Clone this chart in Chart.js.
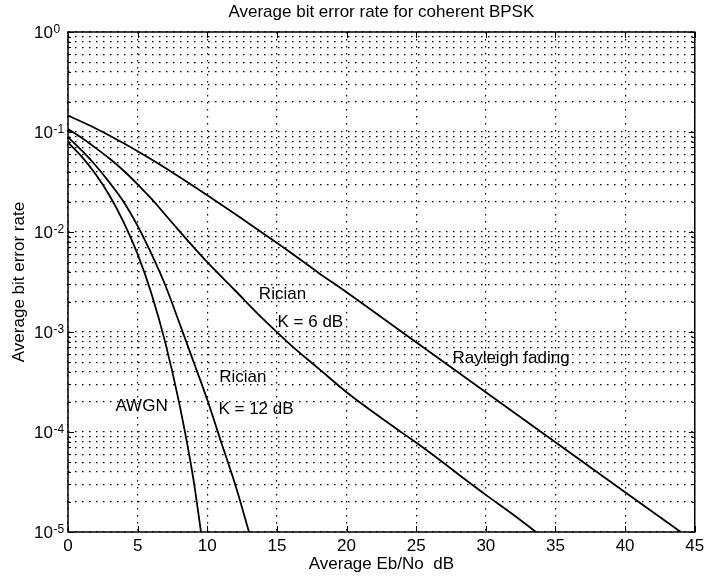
<!DOCTYPE html>
<html>
<head>
<meta charset="utf-8">
<title>Average bit error rate for coherent BPSK</title>
<script src="https://cdn.jsdelivr.net/npm/chart.js@4.4.1/dist/chart.umd.min.js"></script>
<style>
  html, body { margin: 0; padding: 0; background: #fff; }
  #wrap { width: 708px; height: 582px; }
</style>
</head>
<body>
<div id="wrap"><canvas id="ber-chart" width="708" height="582"></canvas></div>
<script>
// values: Eb/No in dB and average bit error rate
const awgnEbNo = [0, 1, 2, 3, 4, 5, 6, 7, 8, 9, 9.55];
const awgnBer = [0.0786, 0.0563, 0.0375, 0.0229, 0.0125, 0.0060, 0.0024, 7.7e-4, 1.9e-4, 3.4e-5, 1.0e-5];

const rician12EbNo = [0, 1, 2, 3, 4, 5, 6, 7, 8, 9, 10, 11, 12, 13];
const rician12Ber = [0.089, 0.065, 0.046, 0.031, 0.020, 0.0115, 0.0060, 0.0029, 0.00123, 5.1e-4, 2.1e-4, 7.9e-5, 3.0e-5, 1.0e-5];

const rician6EbNo = [0, 1, 2, 3, 4, 5, 6, 7, 8, 9, 10, 12, 14, 16, 18, 20, 22, 24, 26, 28, 30, 32, 33.6];
const rician6Ber = [0.107, 0.087, 0.069, 0.054, 0.041, 0.030, 0.0214, 0.0148, 0.0102, 0.0071, 0.0050, 0.0026, 0.00135,
                    7.4e-4, 4.3e-4, 2.5e-4, 1.55e-4, 9.8e-5, 6.2e-5, 3.8e-5, 2.35e-5, 1.48e-5, 1.0e-5];

const rayleighEbNo = [0, 2, 4, 6, 8, 10, 12, 14, 16, 18, 20, 25, 30, 35, 40, 44];
const rayleighBer = [0.146, 0.1085, 0.0771, 0.053, 0.0355, 0.0233, 0.0151, 0.0097, 0.0062, 0.0039, 0.0025,
                     7.9e-4, 2.5e-4, 7.9e-5, 2.5e-5, 1.0e-5];

// y axis decades (10^k) and x tick step
const yDecades = [-5, -4, -3, -2, -1, 0];
const xTickStep = 5;

// curve labels, placed in data coordinates
const curveLabels = [
    { text: 'Rician', x: 15.4, y: 2.4e-3, align: 'center' },
    { text: 'K = 6 dB', x: 17.4, y: 1.26e-3, align: 'center' },
    { text: 'Rayleigh fading', x: 27.6, y: 5.4e-4, align: 'left' },
    { text: 'Rician', x: 12.55, y: 3.5e-4, align: 'center' },
    { text: 'K = 12 dB', x: 13.5, y: 1.7e-4, align: 'center' },
    { text: 'AWGN', x: 5.28, y: 1.8e-4, align: 'center' }
];

const FONT = '"Liberation Sans", Arial, Helvetica, sans-serif';
const FONT_SIZE = 17;

function toPoints(xs, ys) {
    return xs.map((x, i) => ({ x: x, y: ys[i] }));
}

// grid lines at 1..9 x 10^k like the matlab log grid
function logGridValues() {
    const vals = [];
    for (let i = 0; i < yDecades.length - 1; i++) {
        for (let m = 1; m < 10; m++) {
            vals.push(m * Math.pow(10, yDecades[i]));
        }
    }
    vals.push(Math.pow(10, yDecades[yDecades.length - 1]));
    return vals;
}

const decorations = {
    id: 'decorations',
    afterDraw(chart) {
        const { ctx, chartArea: area, scales: { x, y } } = chart;
        ctx.save();
        ctx.strokeStyle = '#000';
        ctx.fillStyle = '#000';

        // tick marks pointing inwards
        ctx.lineWidth = 1;
        ctx.beginPath();
        x.ticks.forEach(t => {
            const px = Math.round(x.getPixelForValue(t.value)) + 0.5;
            ctx.moveTo(px, area.bottom); ctx.lineTo(px, area.bottom - 6);
            ctx.moveTo(px, area.top); ctx.lineTo(px, area.top + 6);
        });
        y.ticks.forEach(t => {
            const py = Math.round(y.getPixelForValue(t.value)) + 0.5;
            const e = Math.log10(t.value);
            const len = Math.abs(e - Math.round(e)) < 1e-6 ? 6 : 3;
            ctx.moveTo(area.left, py); ctx.lineTo(area.left + len, py);
            ctx.moveTo(area.right, py); ctx.lineTo(area.right - len, py);
        });
        ctx.stroke();

        // axes box
        ctx.lineWidth = 1.5;
        ctx.strokeRect(area.left, area.top, area.right - area.left, area.bottom - area.top);

        // 10^k labels
        ctx.textAlign = 'left';
        ctx.textBaseline = 'alphabetic';
        yDecades.forEach(e => {
            const py = y.getPixelForValue(Math.pow(10, e));
            ctx.font = FONT_SIZE + 'px ' + FONT;
            ctx.fillText('10', 34, py + 6);
            const w = ctx.measureText('10').width;
            ctx.font = '12px ' + FONT;
            ctx.fillText(String(e), 34 + w + 0.5, py + 0.5);
        });

        // curve labels
        ctx.font = FONT_SIZE + 'px ' + FONT;
        ctx.textBaseline = 'middle';
        curveLabels.forEach(l => {
            ctx.textAlign = l.align;
            ctx.fillText(l.text, x.getPixelForValue(l.x), y.getPixelForValue(l.y));
        });
        ctx.restore();
    }
};

function lineSet(label, xs, ys) {
    return {
        label: label,
        data: toPoints(xs, ys),
        showLine: true,
        borderColor: '#000',
        borderWidth: 1.8,
        pointRadius: 0,
        fill: false,
        cubicInterpolationMode: 'monotone'
    };
}

Chart.defaults.font.family = FONT;
Chart.defaults.color = '#000';

new Chart(document.getElementById('ber-chart'), {
    type: 'scatter',
    data: {
        datasets: [
            lineSet('AWGN', awgnEbNo, awgnBer),
            lineSet('Rician K = 12 dB', rician12EbNo, rician12Ber),
            lineSet('Rician K = 6 dB', rician6EbNo, rician6Ber),
            lineSet('Rayleigh fading', rayleighEbNo, rayleighBer)
        ]
    },
    options: {
        responsive: false,
        animation: false,
        layout: { padding: { left: 0, right: 9, top: 0, bottom: 0 } },
        plugins: {
            legend: { display: false },
            tooltip: { enabled: false },
            title: {
                display: true,
                fullSize: false,
                text: 'Average bit error rate for coherent BPSK',
                font: { size: FONT_SIZE, weight: 'normal' },
                padding: { top: 2, bottom: 9.6 }
            }
        },
        scales: {
            x: {
                type: 'linear',
                min: 0,
                max: 45,
                ticks: { stepSize: xTickStep, font: { size: FONT_SIZE }, padding: 3.8, maxRotation: 0 },
                grid: { color: '#000', lineWidth: 1.2, drawTicks: false },
                border: { display: false, dash: [1.5, 5.5] },
                title: {
                    display: true,
                    text: 'Average Eb/No  dB',
                    font: { size: FONT_SIZE },
                    padding: { top: 0, bottom: 7.3 }
                },
                afterFit: scale => { scale.height = 50; }
            },
            y: {
                type: 'logarithmic',
                min: Math.pow(10, yDecades[0]),
                max: Math.pow(10, yDecades[yDecades.length - 1]),
                afterBuildTicks: scale => {
                    scale.ticks = logGridValues().map(v => ({ value: v }));
                },
                ticks: { display: false, autoSkip: false },
                grid: { color: '#000', lineWidth: 1.2, drawTicks: false },
                border: { display: false, dash: [1.5, 5.5] },
                title: {
                    display: true,
                    text: 'Average bit error rate',
                    font: { size: FONT_SIZE },
                    padding: { top: 8.8, bottom: 0 }
                },
                afterFit: scale => { scale.width = 68; }
            }
        }
    },
    plugins: [decorations]
});
</script>
</body>
</html>
